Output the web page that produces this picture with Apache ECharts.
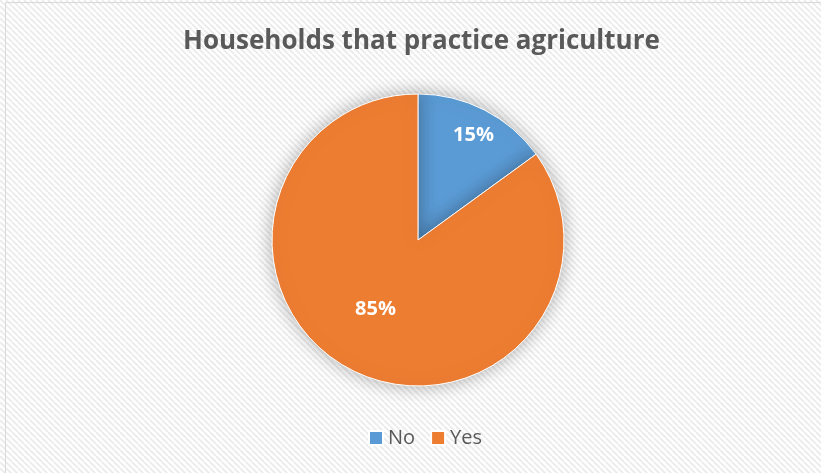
<!DOCTYPE html>
<html><head><meta charset="utf-8">
<script src="https://cdn.jsdelivr.net/npm/echarts@6/dist/echarts.min.js"></script>
<style>html,body{margin:0;padding:0;background:#fff}#c{width:821px;height:473px}</style>
</head><body><div id="c"></div>
<script>
const titleText = 'Households that practice agriculture';
const categories = ['No', 'Yes'];
const values = [15, 85];
const colors = ['#5B9BD5', '#ED7D31'];
const labelOffsets = [[21, -37], [-8, 2]];

// stripe pattern
const pc = document.createElement('canvas');
pc.width = 6; pc.height = 6;
const px = pc.getContext('2d');
px.fillStyle = '#ffffff'; px.fillRect(0,0,6,6);
px.strokeStyle = '#ececec'; px.lineWidth = 2;
for (let k = -6; k <= 12; k += 6) {
  px.beginPath(); px.moveTo(k, 0); px.lineTo(k + 6, 6); px.stroke();
}

const chart = echarts.init(document.getElementById('c'));
chart.setOption({
  backgroundColor: {image: pc, repeat: 'repeat'},
  animation: false,
  title: {
    text: titleText, left: 178, top: 24,
    textStyle: {fontFamily: 'Open Sans', fontWeight: 'bold', fontSize: 26, color: '#595959'}
  },
  legend: {
    data: categories, top: 423, left: 363,
    itemWidth: 14, itemHeight: 14, itemGap: 15, icon: 'rect',
    textStyle: {fontFamily: 'Open Sans', fontSize: 20, color: '#595959'}
  },
  graphic: [
    {type: 'line', shape: {x1: 5.5, y1: 2.5, x2: 821, y2: 2.5}, style: {stroke: '#d9d9d9', lineWidth: 1}},
    {type: 'line', shape: {x1: 5.5, y1: 2.5, x2: 5.5, y2: 473}, style: {stroke: '#d9d9d9', lineWidth: 1}}
  ],
  series: [{
    type: 'pie',
    center: [418, 240], radius: 146,
    startAngle: 90, clockwise: true,
    data: categories.map((c, i) => ({
      name: c, value: values[i], itemStyle: {color: colors[i]},
      label: {offset: labelOffsets[i]}
    })),
    itemStyle: {borderColor: '#ffffff', borderWidth: 1, shadowBlur: 18, shadowColor: 'rgba(0,0,0,0.3)'},
    label: {
      position: 'inside', formatter: '{d}%',
      fontFamily: 'Open Sans', fontWeight: 'bold', fontSize: 20, color: '#ffffff'
    },
    labelLine: {show: false},
    emphasis: {disabled: true}
  }]
});
</script></body></html>
